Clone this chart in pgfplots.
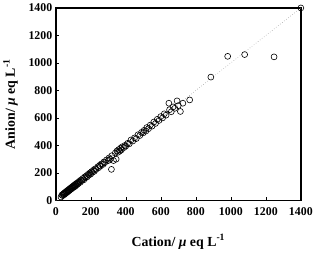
\documentclass[border=0pt]{standalone}
\usepackage{pgfplots}
\pgfplotsset{compat=1.18}
\usepackage{fontspec}
\setmainfont{Liberation Serif}
\begin{document}
\begin{tikzpicture}[x=1bp,y=1bp]
\path (0,0) rectangle (316,252);
\begin{axis}[
  at={(56bp,50bp)}, anchor=south west,
  scale only axis, width=247bp, height=194bp,
  xmin=0, xmax=1400, ymin=0, ymax=1400,
  xtick={0,200,...,1400}, ytick={0,200,...,1400},
  tick align=inside, axis line style={line width=1.6pt},
  major tick style={line width=0.5pt, black},
  major tick length=3pt,
  tick label style={font=\fontsize{12}{14}\selectfont\bfseries},
  xticklabel style={yshift=-4pt},
  /pgf/number format/assume math mode=true,
  /pgf/number format/1000 sep={},
  xtick pos=bottom, ytick pos=left,
  xlabel={\fontsize{14}{16}\selectfont\bfseries Cation/ \textit{μ} eq L\textsuperscript{-1}},
  ylabel={\fontsize{14}{16}\selectfont\bfseries Anion/ \textit{μ} eq L\textsuperscript{-1}},
  xlabel style={yshift=-12pt},
  ylabel style={yshift=4pt},
  clip=false,
]
\addplot[gray!70, dotted, line width=0.6pt] coordinates {(0,0) (1400,1400)};
\addplot[only marks, mark=o, mark size=3pt, black, line width=0.6pt] coordinates {
(30,25) (35,40) (40,35) (42,45) (45,50) (48,42) (50,55) (52,48) (55,60) (58,52)
(60,65) (62,58) (65,70) (68,62) (70,75) (72,68) (75,80) (78,72) (80,85) (82,78)
(85,90) (88,82) (90,95) (92,88) (95,100) (98,92) (100,105) (102,98) (105,110) (108,100)
(110,115) (112,105) (115,120) (118,112) (120,125) (125,118) (128,132) (130,125) (135,140) (140,132)
(145,150) (150,145) (155,160) (160,150) (165,170) (170,165) (175,180) (180,172) (185,190) (190,185)
(195,200) (200,192) (205,210) (210,205) (215,220) (220,212) (225,230) (230,225) (240,245) (245,238)
(250,255) (255,250) (260,265) (270,262) (275,280) (280,275) (290,295) (300,290) (305,310) (310,300)
(318,226) (320,325) (330,290) (340,345) (345,300) (350,360) (355,350) (360,370) (365,358) (370,380)
(375,368) (380,390) (390,385) (395,400) (400,395) (410,415) (420,412) (430,440) (440,432) (450,455)
(460,450) (470,478) (480,472) (490,495) (500,492) (505,510) (515,505) (520,530) (530,522) (540,548)
(550,540) (560,570) (570,560) (580,590) (590,582) (600,610) (610,600) (620,630) (630,620) (646,707)
(650,660) (660,645) (670,680) (680,670) (693,724) (700,690) (712,647) (726,707) (765,731) (886,897)
(982,1048) (1079,1061) (1247,1044) (1400,1400)
};
\end{axis}
\end{tikzpicture}
\end{document}
